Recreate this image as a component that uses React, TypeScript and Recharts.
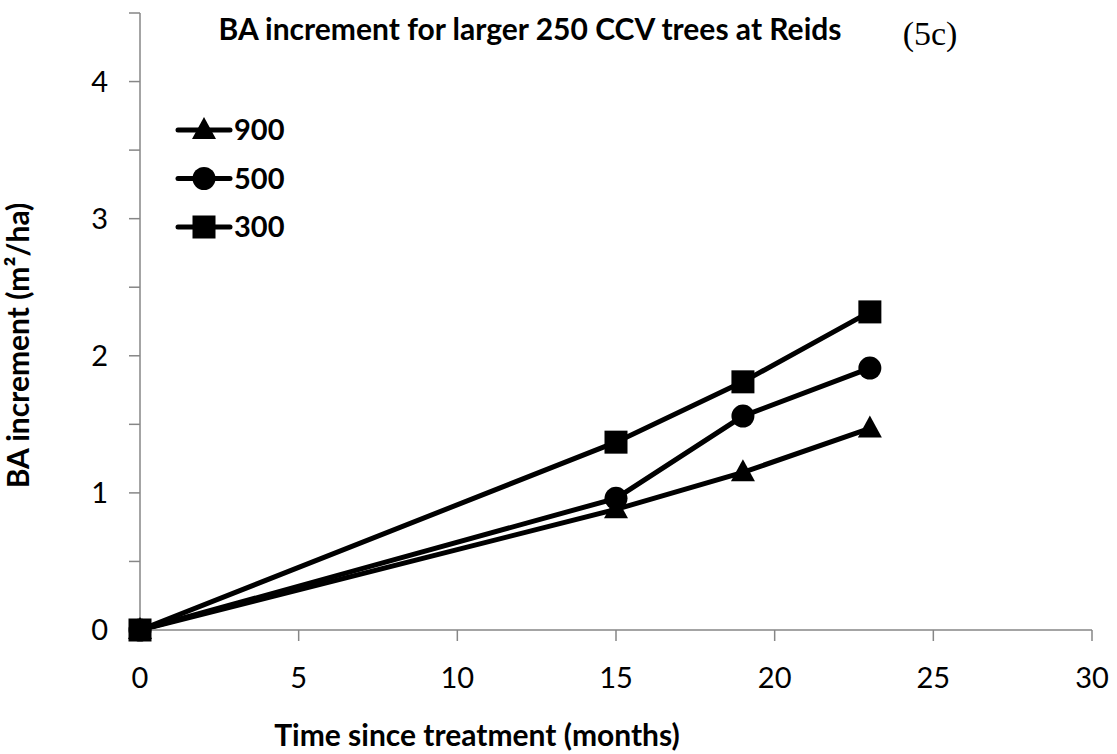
import React from 'react';
import { LineChart, Line, XAxis, YAxis } from 'recharts';

const months = [0, 15, 19, 23];
const ba900 = [0, 0.88, 1.15, 1.47];
const ba500 = [0, 0.96, 1.56, 1.91];
const ba300 = [0, 1.37, 1.81, 2.32];
const xTicks = [0, 5, 10, 15, 20, 25, 30];
const yTicks = [0, 0.5, 1, 1.5, 2, 2.5, 3, 3.5, 4, 4.5];

const series = [
  { key: 's900', name: '900', shape: 'triangle' },
  { key: 's500', name: '500', shape: 'circle' },
  { key: 's300', name: '300', shape: 'square' },
];

const data = months.map((m, i) => ({ m, s900: ba900[i], s500: ba500[i], s300: ba300[i] }));

const FONT = 'Lato, "Open Sans", sans-serif';
const AXIS = '#868686';

const Marker = ({ cx, cy, shape }: { cx: number; cy: number; shape: string }) => {
  if (shape === 'triangle') {
    return <polygon points={`${cx},${cy - 13} ${cx + 12},${cy + 9} ${cx - 12},${cy + 9}`} fill="#000" />;
  }
  if (shape === 'circle') {
    return <circle cx={cx} cy={cy} r={11.5} fill="#000" />;
  }
  return <rect x={cx - 11.5} y={cy - 11.5} width={23} height={23} fill="#000" />;
};

const renderDot = (shape: string) => (props: any) => {
  const { cx, cy, index } = props;
  return <Marker key={`${shape}-${index}`} cx={cx} cy={cy} shape={shape} />;
};

// legend drawn straight into the svg so it doesn't push the plot area
const LegendBox = () => (
  <g>
    {series.map((s, i) => {
      const y = 130 + i * 48.5;
      return (
        <g key={s.key}>
          <line x1={178} y1={y} x2={230} y2={y} stroke="#000" strokeWidth={5} strokeLinecap="round" />
          <Marker cx={204} cy={y} shape={s.shape} />
          <text x={234} y={y + 10} fontFamily={FONT} fontWeight={700} fontSize={29} fill="#000">
            {s.name}
          </text>
        </g>
      );
    })}
  </g>
);

export default function App() {
  return (
    <div style={{ position: 'absolute', left: 0, top: 0, width: 1117, height: 754, background: '#fff' }}>
      <LineChart width={1117} height={754} data={data} margin={{ top: 13, right: 25, left: 0, bottom: 0 }}>
        <XAxis
          dataKey="m"
          type="number"
          domain={[0, 30]}
          ticks={xTicks}
          height={124}
          tickSize={11}
          tickMargin={26}
          axisLine={{ stroke: AXIS, strokeWidth: 1.5 }}
          tickLine={{ stroke: AXIS, strokeWidth: 1.5 }}
          tick={{ fill: '#000', fontSize: 29, fontFamily: FONT }}
          label={{
            value: 'Time since treatment (months)',
            position: 'insideBottom',
            offset: 8,
            fill: '#000',
            fontSize: 30,
            fontWeight: 700,
            fontFamily: FONT,
            dx: -139,
          }}
        />
        <YAxis
          type="number"
          domain={[0, 4.5]}
          ticks={yTicks}
          width={140}
          tickSize={11}
          tickMargin={21}
          interval={0}
          axisLine={{ stroke: AXIS, strokeWidth: 1.5 }}
          tickLine={{ stroke: AXIS, strokeWidth: 1.5 }}
          tick={{ fill: '#000', fontSize: 29, fontFamily: FONT }}
          tickFormatter={(v: number) => (Number.isInteger(v) ? String(v) : '')}
          label={{
            value: 'BA increment (m²/ha)',
            angle: -90,
            position: 'insideLeft',
            offset: 18,
            dy: 24,
            fill: '#000',
            fontSize: 30,
            fontWeight: 700,
            fontFamily: FONT,
            style: { textAnchor: 'middle' },
          }}
        />
        {series.map(s => (
          <Line
            key={s.key}
            dataKey={s.key}
            name={s.name}
            stroke="#000"
            strokeWidth={5}
            dot={renderDot(s.shape)}
            activeDot={false}
            isAnimationActive={false}
          />
        ))}
        <LegendBox />
        <text x={530} y={40} textAnchor="middle" fontFamily={FONT} fontWeight={700} fontSize={30} fill="#000">
          BA increment for larger 250 CCV trees at Reids
        </text>
        <text x={930} y={45} textAnchor="middle" fontFamily='"Liberation Serif", serif' fontSize={34} fill="#000">
          (5c)
        </text>
      </LineChart>
    </div>
  );
}
